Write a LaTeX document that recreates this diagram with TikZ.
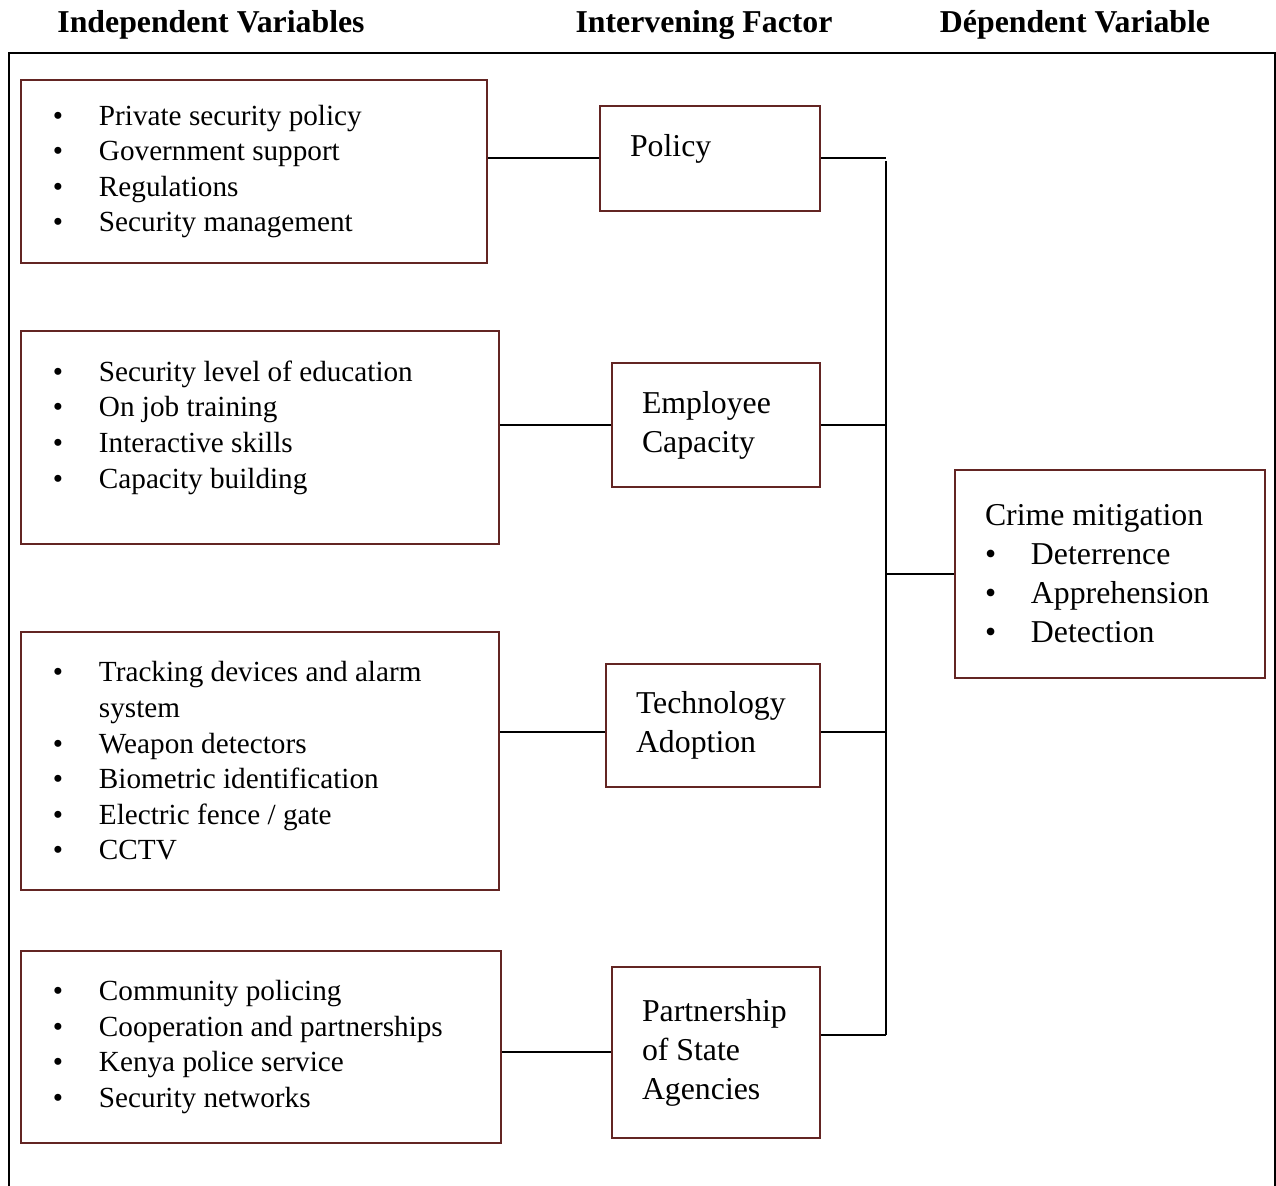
\documentclass[tikz,border=0pt]{standalone}
\usepackage{fontspec}
\setmainfont{Liberation Serif}
\usetikzlibrary{positioning,calc}
\definecolor{boxred}{RGB}{99,37,35}
\newcommand{\bul}{\makebox[23pt][l]{\textbullet}}

\begin{document}
\begin{tikzpicture}[x=0.5pt,y=-0.5pt,
  head/.style={font=\fontsize{15.9}{19}\selectfont\bfseries},
  listbox/.style={draw=boxred, line width=1pt, inner xsep=16pt, align=flush left, font=\fontsize{14.6}{17.8}\selectfont},
  factor/.style={draw=boxred, line width=1pt, inner xsep=15pt, align=flush left, font=\fontsize{15.9}{19.5}\selectfont},
  link/.style={line width=1pt}]
  \useasboundingbox (0,0) rectangle (1276,1186);
  % headings
  \node[head] (indep) at (211,25) {Independent Variables};
  \node[head] (inter) at (704,25) {Intervening Factor};
  \node[head] (dep) at (1075,25) {Dépendent Variable};
  \draw[line width=1.3pt] (9,1190) -- (9,53) -- (1275,53) -- (1275,1190);

  % independent variables
  \node[listbox, text width=201pt, minimum height=91.5pt] (policylist) at (254,171.5) {\bul Private security policy\\ \bul Government support\\ \bul Regulations\\ \bul Security management};
  \node[listbox, text width=207pt, minimum height=106.5pt, text depth=66.5pt] (skilllist) at (260,437.5) {\bul Security level of education\\ \bul On job training\\ \bul Interactive skills\\ \bul Capacity building};
  \node[listbox, text width=207pt, minimum height=129pt] (techlist) at (260,761) {\bul Tracking devices and alarm\\ \hspace{23pt}system\\ \bul Weapon detectors\\ \bul Biometric identification\\ \bul Electric fence / gate\\ \bul CCTV};
  \node[listbox, text width=208pt, minimum height=96pt] (partlist) at (261,1047) {\bul Community policing\\ \bul Cooperation and partnerships\\ \bul Kenya police service\\ \bul Security networks};

  % intervening factors
  \node[factor, text width=80pt, minimum height=52.5pt, text depth=13.5pt] (policy) at (710,158.5) {Policy};
  \node[factor, text width=74pt, minimum height=62pt] (capacity) at (716,425) {Employee\\ Capacity};
  \node[factor, text width=77pt, minimum height=61.5pt] (tech) at (713,725.5) {Technology\\ Adoption};
  \node[factor, text width=74pt, minimum height=85.5pt] (partner) at (716,1052.5) {Partnership\\ of State\\ Agencies};

  % dependent variable
  \node[factor, text width=125pt, minimum height=104pt] (crime) at (1110,574) {Crime mitigation\\ \bul Deterrence\\ \bul Apprehension\\ \bul Detection};

  \coordinate (bustop) at (886,161);
  \coordinate (busbot) at (886,1035);
  \draw[link] (bustop) -- (busbot);
  \draw[link] (policy.west -| policylist.east) -- (policy.west);
  \draw[link] (capacity.west -| skilllist.east) -- (capacity.west);
  \draw[link] ([yshift=-3.25pt]tech.west -| techlist.east) -- ([yshift=-3.25pt]tech.west);
  \draw[link] (partner.west -| partlist.east) -- (partner.west);
  \draw[link] (policy.east) -- (policy.east -| bustop);
  \draw[link] (capacity.east) -- (capacity.east -| bustop);
  \draw[link] ([yshift=-3.25pt]tech.east) -- ([yshift=-3.25pt]tech.east -| bustop);
  \draw[link] (busbot -| partner.east) -- (busbot);
  \draw[link] (crime.west) -- (crime.west -| bustop);

\end{tikzpicture}
\end{document}
